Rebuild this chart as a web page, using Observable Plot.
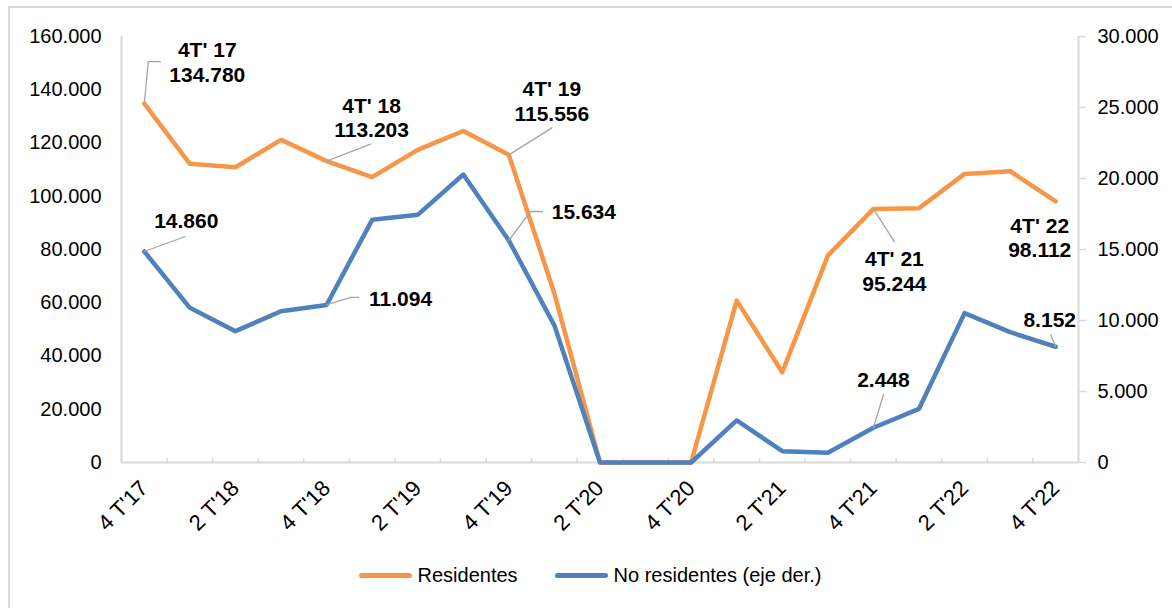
<!DOCTYPE html>
<html>
<head>
<meta charset="utf-8">
<script src="https://cdn.jsdelivr.net/npm/d3@7"></script>
<script src="https://cdn.jsdelivr.net/npm/@observablehq/plot@0.6"></script>
<style>
  html, body { margin: 0; padding: 0; background: #fff; width: 1172px; height: 608px; overflow: hidden; }
  body { position: relative; font-family: "Liberation Sans", Arial, sans-serif; }
  #frame { position: absolute; left: 8px; top: 6px; width: 1300px; height: 800px;
           border-left: 2px solid #d9d9d9; border-top: 2px solid #d9d9d9; box-sizing: border-box; }
  #chart { position: absolute; left: 0; top: 0; }
  #legend { position: absolute; left: 0; top: 560px; width: 1172px; height: 30px;
            display: flex; justify-content: center; align-items: center;
            font-size: 20px; color: #000; padding-left: 8px; box-sizing: border-box; }
  .item { display: flex; align-items: center; }
  .sw { display: inline-block; width: 53px; height: 5px; border-radius: 3px; margin-right: 6px; }
</style>
</head>
<body>
<div id="frame"></div>
<div id="chart"></div>
<div id="legend"></div>
<script>
// ---- Data ----
const categories = ["4 T'17","1 T'18","2 T'18","3 T'18","4 T'18","1 T'19","2 T'19","3 T'19","4 T'19","1 T'20","2 T'20","3 T'20","4 T'20","1 T'21","2 T'21","3 T'21","4 T'21","1 T'22","2 T'22","3 T'22","4 T'22"];
const residentes = [134780,112200,110900,121200,113203,107200,117400,124500,115556,63400,0,0,0,60800,33900,77700,95244,95500,108400,109400,98112];
const noResidentes = [14860,10890,9250,10650,11094,17090,17440,20280,15634,9650,0,0,0,2960,800,680,2448,3780,10520,9180,8152];
const leftTicks = [0,20000,40000,60000,80000,100000,120000,140000,160000];
const rightTicks = [0,5000,10000,15000,20000,25000,30000];
const labeledTicks = [0,2,4,6,8,10,12,14,16,18,20];
const seriesNames = ["Residentes", "No residentes (eje der.)"];

// Data labels (index, series, text) and their layout offsets in pixels
const annotations = [
  {i: 0,  s: 0, text: "4T' 17\n134.780", dx: 63,  dy: -42, leader: [[0,0],[4,-42],[16,-42]]},
  {i: 4,  s: 0, text: "4T' 18\n113.203", dx: 45,  dy: -44, leader: [[0,0],[44,-17]]},
  {i: 8,  s: 0, text: "4T' 19\n115.556", dx: 43,  dy: -54, leader: [[0,0],[43,-27]]},
  {i: 16, s: 0, text: "4T' 21\n95.244",  dx: 21,  dy: 62,  leader: [[0,0],[21,33]]},
  {i: 20, s: 0, text: "4T' 22\n98.112",  dx: -16, dy: 36,  leader: null},
  {i: 0,  s: 1, text: "14.860", dx: 42, dy: -31, leader: [[0,0],[41,-15]]},
  {i: 4,  s: 1, text: "11.094", dx: 74, dy: -7,  leader: [[0,0],[24,-7.5],[32,-7.5]]},
  {i: 8,  s: 1, text: "15.634", dx: 75, dy: -29, leader: [[0,0],[21.6,-29],[33.6,-29]]},
  {i: 16, s: 1, text: "2.448",  dx: 10, dy: -49, leader: [[0,0],[10,-33]]},
  {i: 20, s: 1, text: "8.152",  dx: -6, dy: -28, leader: [[0,0],[-5,-12]]}
];

// ---- Styles ----
const orange = "#F79646";
const blue = "#4F81BD";
const gray = "#d9d9d9";
const leaderGray = "#a6a6a6";
const k = leftTicks[leftTicks.length - 1] / rightTicks[rightTicks.length - 1];

const fmt = d3.formatLocale({decimal: ",", thousands: ".", grouping: [3], currency: ["", ""]}).format(",.0f");

const resData = categories.map((c, i) => ({i, v: residentes[i]}));
const noData = categories.map((c, i) => ({i, v: noResidentes[i] * k}));
const xDomain = [-0.5, categories.length - 0.5];
const boundaries = d3.range(categories.length + 1).map(j => j - 0.5);

const lineShape = {draw(context, l) { context.moveTo(0, 0); context.lineTo(0, -l); }};

const annoMarks = [];
for (const a of annotations) {
  const d = {i: a.i, v: a.s === 0 ? residentes[a.i] : noResidentes[a.i] * k};
  if (a.leader) {
    for (let j = 0; j < a.leader.length - 1; j++) {
      const [x0, y0] = a.leader[j], [x1, y1] = a.leader[j + 1];
      const len = Math.hypot(x1 - x0, y1 - y0);
      const ang = Math.atan2(x1 - x0, -(y1 - y0)) * 180 / Math.PI;
      annoMarks.push(Plot.vector([d], {
        x: "i", y: "v", dx: x0, dy: y0, length: len, rotate: ang, anchor: "start",
        shape: lineShape, stroke: leaderGray, strokeWidth: 1.3
      }));
    }
  }
  annoMarks.push(Plot.text([d], {
    x: "i", y: "v", text: () => a.text, dx: a.dx, dy: a.dy,
    fontSize: 21, fontWeight: "bold", fill: "#000", lineHeight: 1.17,
    textAnchor: "middle", lineAnchor: "middle"
  }));
}

const chart = Plot.plot({
  width: 1172,
  height: 545,
  marginLeft: 121,
  marginRight: 94,
  marginTop: 36,
  marginBottom: 83,
  style: {fontFamily: "'Liberation Sans', Arial, sans-serif", fontSize: "20px", color: "#000", background: "transparent"},
  x: {type: "linear", domain: xDomain},
  y: {domain: [leftTicks[0], leftTicks[leftTicks.length - 1]]},
  marks: [
    Plot.ruleY([0], {stroke: gray, strokeWidth: 2}),
    Plot.ruleX(xDomain, {stroke: gray, strokeWidth: 2}),
    Plot.axisX({anchor: "top", frameAnchor: "bottom", ticks: boundaries, tickSize: 5, stroke: gray, strokeWidth: 1.5, fill: "none", label: null}),
    Plot.axisX({ticks: labeledTicks, tickFormat: i => categories[i], tickSize: 0, tickPadding: 22, dx: 0, tickRotate: -45, fontSize: 22, fill: "#000", label: null}),
    Plot.axisY({anchor: "left", ticks: leftTicks, tickFormat: fmt, tickSize: 0, tickPadding: 20, fontSize: 20, fill: "#000", label: null}),
    Plot.axisY({anchor: "right", ticks: rightTicks.map(v => v * k), tickFormat: v => fmt(v / k), tickSize: 7, tickPadding: 12, stroke: gray, strokeWidth: 1.5, fill: "#000", fontSize: 20, label: null}),
    Plot.line(resData, {x: "i", y: "v", stroke: orange, strokeWidth: 4.5, strokeLinejoin: "round"}),
    Plot.line(noData, {x: "i", y: "v", stroke: blue, strokeWidth: 4.5, strokeLinejoin: "round"}),
    ...annoMarks
  ]
});
document.getElementById("chart").appendChild(chart);

// Legend
const legend = document.getElementById("legend");
[[seriesNames[0], orange], [seriesNames[1], blue]].forEach(([name, color], idx) => {
  const item = document.createElement("div");
  item.className = "item";
  if (idx > 0) item.style.marginLeft = "37px";
  const sw = document.createElement("span");
  sw.className = "sw";
  sw.style.background = color;
  const t = document.createElement("span");
  t.textContent = name;
  item.appendChild(sw);
  item.appendChild(t);
  legend.appendChild(item);
});
</script>
</body>
</html>
